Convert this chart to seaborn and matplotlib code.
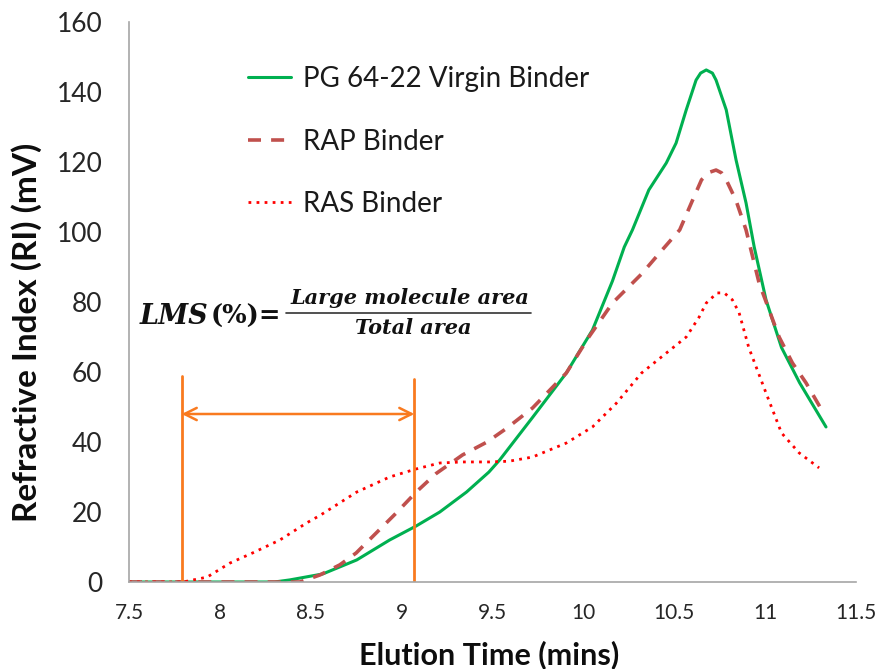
import matplotlib
matplotlib.use("Agg")
import matplotlib.pyplot as plt
import seaborn as sns
import pandas as pd

# ---------------- data ----------------
virgin_x = [7.5, 8.0, 8.3, 8.385, 8.566, 8.753, 8.934, 9.08, 9.21, 9.357, 9.48, 9.54,
            9.72, 9.906, 10.05, 10.16, 10.225, 10.27, 10.36, 10.456, 10.51, 10.566,
            10.62, 10.645, 10.676, 10.71, 10.73, 10.786, 10.84, 10.895, 10.94, 11.005,
            11.09, 11.19, 11.335]
virgin_y = [0, 0, 0, 0.6, 2.3, 6.3, 12, 16, 20, 25.7, 31.4, 34.9,
            47, 59.7, 72, 86, 95.7, 100.6, 112, 119.7, 125.4, 134.9,
            143.4, 145.4, 146.3, 145.4, 143.4, 134.9, 120.6, 108.3, 95.7, 80.6,
            67, 56.9, 44.3]

rap_x = [7.5, 8.3, 8.44, 8.55, 8.66, 8.75, 8.86, 8.97, 9.08, 9.19, 9.335, 9.47, 9.58,
         9.72, 9.906, 10.03, 10.16, 10.32, 10.434, 10.53, 10.6, 10.65, 10.69, 10.73,
         10.76, 10.786, 10.84, 10.895, 10.967, 11.077, 11.15, 11.225, 11.313]
rap_y = [0, 0, 0, 2, 4.9, 8.3, 14, 19.7, 25.7, 31, 36.3, 40, 44,
         49.7, 59.7, 70, 79.7, 88, 94.9, 100.6, 109, 114.9, 117, 117.7,
         116.9, 114.9, 109, 100.6, 85.4, 70, 62.6, 56.9, 49]

ras_x = [7.5, 7.797, 7.93, 8.055, 8.18, 8.33, 8.478, 8.55, 8.753, 8.934, 9.08, 9.21,
         9.335, 9.48, 9.59, 9.72, 9.906, 10.05, 10.18, 10.32, 10.456, 10.566, 10.637,
         10.676, 10.736, 10.775, 10.82, 10.857, 10.91, 11.005, 11.09, 11.187, 11.297]
ras_y = [0, 0, 1.4, 5.4, 8.3, 12, 16.9, 19, 25.7, 30, 32.3, 34,
         34.3, 34.3, 34.5, 35.7, 39.7, 44.3, 51, 59.7, 65.4, 70, 75.7,
         79.7, 82.6, 82.6, 80.6, 76.9, 67, 54, 42.6, 36.9, 32.6]

series_labels = ["PG 64-22 Virgin Binder", "RAP Binder", "RAS Binder"]
x_ticks = [7.5, 8, 8.5, 9, 9.5, 10, 10.5, 11, 11.5]
x_tick_labels = ["7.5", "8", "8.5", "9", "9.5", "10", "10.5", "11", "11.5"]
y_ticks = [0, 20, 40, 60, 80, 100, 120, 140, 160]

lms_start, lms_end = 7.79, 9.07      # large molecule region boundaries (mins)
lms_top_left, lms_top_right = 59, 58
lms_arrow_y = 48

# ---------------- style ----------------
sns.set_theme(style="white")
plt.rcParams["font.family"] = ["Lato", "DejaVu Sans"]

fig = plt.figure(figsize=(8.78, 6.69), dpi=100)
ax = fig.add_axes([129 / 878, 1 - 582 / 669, (856 - 129) / 878, (582 - 22) / 669])

df_v = pd.DataFrame({"x": virgin_x, "y": virgin_y})
df_r = pd.DataFrame({"x": rap_x, "y": rap_y})
df_s = pd.DataFrame({"x": ras_x, "y": ras_y})

sns.lineplot(data=df_v, x="x", y="y", ax=ax, color="#00B050", lw=2.2,
             label=series_labels[0], estimator=None, sort=False)
sns.lineplot(data=df_r, x="x", y="y", ax=ax, color="#C0504D", lw=2.6,
             label=series_labels[1], estimator=None, sort=False)
ax.lines[-1].set_linestyle((0, (3.6, 2.8)))
sns.lineplot(data=df_s, x="x", y="y", ax=ax, color="#FF0000", lw=2.0,
             label=series_labels[2], estimator=None, sort=False)
ax.lines[-1].set_linestyle((0, (1, 1.9)))
for ln in ax.lines:
    ln.set_solid_joinstyle("round")
    ln.set_dash_joinstyle("round")

orange = "#F97A1F"
ax.plot([lms_start, lms_start], [0, lms_top_left], color=orange, lw=2.0)
ax.plot([lms_end, lms_end], [0, lms_top_right], color=orange, lw=2.0)
ax.annotate("", xy=(lms_start, lms_arrow_y), xytext=(lms_end, lms_arrow_y),
            arrowprops=dict(arrowstyle="<->", color=orange, lw=1.8,
                            mutation_scale=22, shrinkA=0, shrinkB=0))

ax.set_xlim(7.5, 11.5)
ax.set_ylim(0, 160)
ax.set_xticks(x_ticks)
ax.set_xticklabels(x_tick_labels)
ax.set_yticks(y_ticks)

for s in ["top", "right"]:
    ax.spines[s].set_visible(False)
for s in ["left", "bottom"]:
    ax.spines[s].set_color("#A6A6A6")
    ax.spines[s].set_linewidth(1.2)
ax.tick_params(axis="both", direction="out", length=7, width=1.2, color="#A6A6A6",
               labelcolor="#262626")
ax.tick_params(axis="y", labelsize=19, pad=12)
ax.tick_params(axis="x", labelsize=15, pad=8)

ax.set_xlabel("Elution Time (mins)", fontsize=22, fontweight="bold", color="#0D0D0D")
ax.set_ylabel("Refractive Index (RI) (mV)", fontsize=24, fontweight="bold",
              color="#0D0D0D")
ax.xaxis.set_label_coords(0.496, -0.104)
ax.yaxis.set_label_coords(-0.12, 0.446)

leg = ax.legend(loc="upper left", bbox_to_anchor=(0.149, 0.941), frameon=False,
                fontsize=20, handlelength=1.55, handletextpad=0.43, labelspacing=1.31,
                borderaxespad=0)
for t in leg.get_texts():
    t.set_color("#1A1A1A")

# formula
serif = ["DejaVu Serif"]
def fx(px): return px / 878
def fy(py): return 1 - py / 669
fig.text(fx(140), fy(316), "LMS", family=serif, style="italic", weight="bold",
         fontsize=19.5, color="#111111", va="center", ha="left")
fig.text(fx(211), fy(316), "(%)=", family=serif, weight="bold",
         fontsize=18.5, color="#111111", va="center", ha="left")
fig.add_artist(plt.Line2D([fx(286), fx(531)], [fy(313), fy(313)], color="#333333",
                          lw=1.2, transform=fig.transFigure))
fig.text(fx(410), fy(298), "Large molecule area", family=serif, style="italic",
         weight="bold", fontsize=15, color="#111111", va="center", ha="center")
fig.text(fx(413), fy(328), "Total area", family=serif, style="italic",
         weight="bold", fontsize=15, color="#111111", va="center", ha="center")

fig.savefig("out.png", dpi=100)
